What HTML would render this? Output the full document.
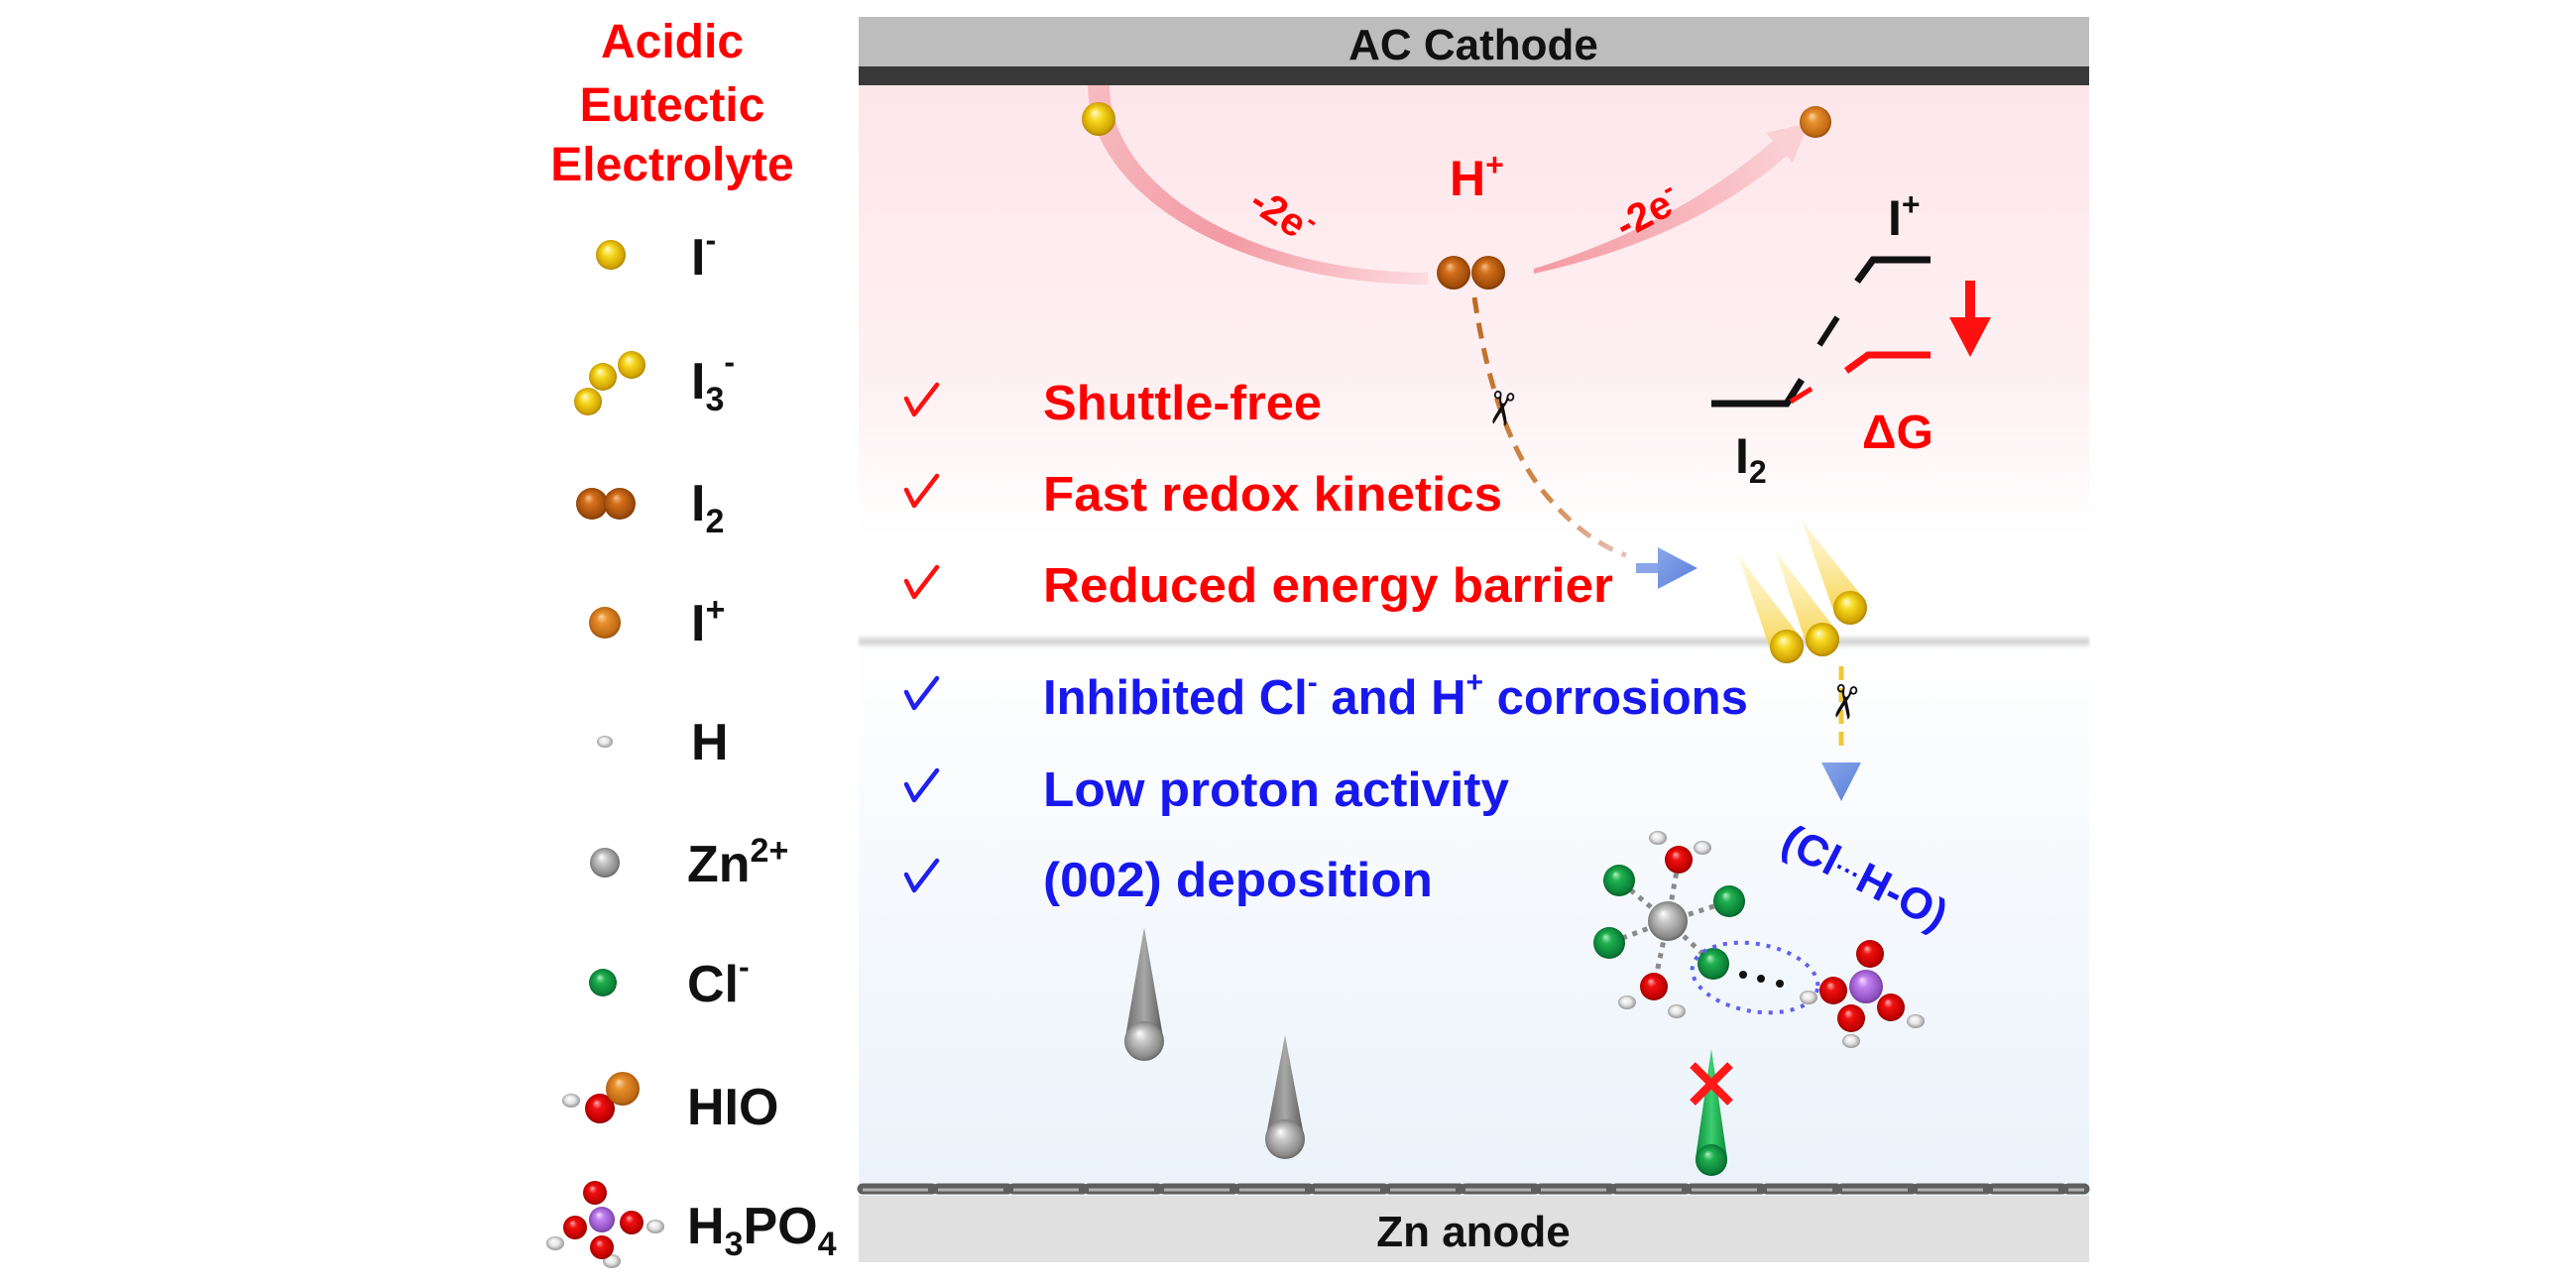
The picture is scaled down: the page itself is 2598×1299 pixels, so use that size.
<!DOCTYPE html>
<html>
<head>
<meta charset="utf-8">
<style>
html,body{margin:0;padding:0;background:#ffffff;}
svg{display:block;}
text{font-family:"Liberation Sans",Arial,sans-serif;font-weight:bold;}
</style>
</head>
<body>
<svg xmlns="http://www.w3.org/2000/svg" width="2598" height="1299" viewBox="0 0 2598 1299">
<defs>
  <radialGradient id="gY" cx="0.5" cy="0.5" r="0.55" fx="0.38" fy="0.3">
    <stop offset="0" stop-color="#fffbd0"/><stop offset="0.35" stop-color="#f6d820"/><stop offset="0.8" stop-color="#d2a400"/><stop offset="1" stop-color="#9a7400"/>
  </radialGradient>
  <radialGradient id="gI2" cx="0.5" cy="0.5" r="0.55" fx="0.38" fy="0.3">
    <stop offset="0" stop-color="#f7c08a"/><stop offset="0.3" stop-color="#d4701c"/><stop offset="0.8" stop-color="#a04c0a"/><stop offset="1" stop-color="#6a3004"/>
  </radialGradient>
  <radialGradient id="gIp" cx="0.5" cy="0.5" r="0.55" fx="0.38" fy="0.3">
    <stop offset="0" stop-color="#fbd8a8"/><stop offset="0.3" stop-color="#e8902e"/><stop offset="0.8" stop-color="#c06a14"/><stop offset="1" stop-color="#804008"/>
  </radialGradient>
  <radialGradient id="gZn" cx="0.5" cy="0.5" r="0.55" fx="0.38" fy="0.3">
    <stop offset="0" stop-color="#ffffff"/><stop offset="0.3" stop-color="#cacaca"/><stop offset="0.8" stop-color="#8a8a8a"/><stop offset="1" stop-color="#555555"/>
  </radialGradient>
  <radialGradient id="gCl" cx="0.5" cy="0.5" r="0.55" fx="0.38" fy="0.3">
    <stop offset="0" stop-color="#b0f0c0"/><stop offset="0.3" stop-color="#20b050"/><stop offset="0.8" stop-color="#0a8038"/><stop offset="1" stop-color="#045020"/>
  </radialGradient>
  <radialGradient id="gO" cx="0.5" cy="0.5" r="0.55" fx="0.38" fy="0.3">
    <stop offset="0" stop-color="#ffb0b0"/><stop offset="0.3" stop-color="#f01010"/><stop offset="0.8" stop-color="#c00000"/><stop offset="1" stop-color="#700000"/>
  </radialGradient>
  <radialGradient id="gP" cx="0.5" cy="0.5" r="0.55" fx="0.38" fy="0.3">
    <stop offset="0" stop-color="#f8e0ff"/><stop offset="0.3" stop-color="#c080f0"/><stop offset="0.8" stop-color="#9050c0"/><stop offset="1" stop-color="#603080"/>
  </radialGradient>
  <radialGradient id="gH" cx="0.5" cy="0.5" r="0.55" fx="0.4" fy="0.35">
    <stop offset="0" stop-color="#ffffff"/><stop offset="0.5" stop-color="#e4e4e4"/><stop offset="1" stop-color="#8a8a8a"/>
  </radialGradient>
  <linearGradient id="bgTop" x1="0" y1="0" x2="0" y2="1">
    <stop offset="0" stop-color="#fde6ea"/><stop offset="0.55" stop-color="#fef1f3"/><stop offset="0.82" stop-color="#ffffff"/><stop offset="1" stop-color="#ffffff"/>
  </linearGradient>
  <linearGradient id="bgBot" x1="0" y1="0" x2="0" y2="1">
    <stop offset="0" stop-color="#ffffff"/><stop offset="1" stop-color="#eaf2fa"/>
  </linearGradient>
  <linearGradient id="sep" x1="0" y1="0" x2="0" y2="1">
    <stop offset="0" stop-color="#f4f4f4"/><stop offset="0.5" stop-color="#d2d2d2"/><stop offset="1" stop-color="#f4f4f4"/>
  </linearGradient>
  <linearGradient id="arcL" gradientUnits="userSpaceOnUse" x1="1108" y1="86" x2="1440" y2="285">
    <stop offset="0" stop-color="#f7b6bd"/><stop offset="0.5" stop-color="#f2909b"/><stop offset="1" stop-color="#fcdade"/>
  </linearGradient>
  <linearGradient id="arcR" gradientUnits="userSpaceOnUse" x1="1547" y1="273" x2="1810" y2="135">
    <stop offset="0" stop-color="#f59aa4"/><stop offset="0.5" stop-color="#f7b3ba"/><stop offset="1" stop-color="#fbd3d7"/>
  </linearGradient>
  <linearGradient id="dashO" gradientUnits="userSpaceOnUse" x1="1487" y1="300" x2="1640" y2="560">
    <stop offset="0" stop-color="#c06a20"/><stop offset="0.7" stop-color="#d08a4a"/><stop offset="1" stop-color="#e8c0b8"/>
  </linearGradient>
  <linearGradient id="cone" x1="0" y1="0" x2="0" y2="1">
    <stop offset="0" stop-color="#fff0b0" stop-opacity="0.45"/><stop offset="1" stop-color="#f6d040" stop-opacity="0.95"/>
  </linearGradient>
  <linearGradient id="drop" x1="0" y1="0" x2="1" y2="0">
    <stop offset="0" stop-color="#6a6a6a"/><stop offset="0.5" stop-color="#a8a8a8"/><stop offset="1" stop-color="#5a5a5a"/>
  </linearGradient>
  <linearGradient id="gdrop" x1="0" y1="0" x2="1" y2="0">
    <stop offset="0" stop-color="#0a8a38"/><stop offset="0.5" stop-color="#3ccf70"/><stop offset="1" stop-color="#0a8a38"/>
  </linearGradient>
  <linearGradient id="blueA" x1="0" y1="0" x2="1" y2="1">
    <stop offset="0" stop-color="#8aa6ea"/><stop offset="1" stop-color="#5a7fd8"/>
  </linearGradient>
  <filter id="soft" x="-5%" y="-50%" width="110%" height="200%"><feGaussianBlur stdDeviation="1.2"/></filter>
</defs>

<!-- ===== Panel background ===== -->
<rect x="866" y="86" width="1241" height="557" fill="url(#bgTop)"/>
<rect x="866" y="643" width="1241" height="565" fill="url(#bgBot)"/>
<rect x="866" y="641" width="1241" height="12" fill="url(#sep)" filter="url(#soft)"/>

<!-- top electrode -->
<rect x="866" y="17" width="1241" height="50" fill="#bdbdbd"/>
<rect x="866" y="67" width="1241" height="19" fill="#383838"/>
<text x="1486" y="60" font-size="44" text-anchor="middle" fill="#111">AC Cathode</text>

<!-- bottom electrode -->
<rect x="866" y="1206" width="1241" height="67" fill="#e0e0e0"/>
<line x1="870" y1="1199" x2="2102" y2="1199" stroke="#5e5e5e" stroke-width="11" stroke-dasharray="70 6" stroke-linecap="round"/>
<line x1="870" y1="1200" x2="2102" y2="1200" stroke="#b0b0b0" stroke-width="3" stroke-dasharray="66 10"/>
<text x="1486" y="1257" font-size="44" text-anchor="middle" fill="#111">Zn anode</text>

<!-- ===== Legend ===== -->
<g fill="#ff0000" font-size="48" text-anchor="middle">
  <text x="678" y="58">Acidic</text>
  <text x="678" y="122">Eutectic</text>
  <text x="678" y="182">Electrolyte</text>
</g>

<g fill="#111" font-size="52">
  <text x="697" y="277">I<tspan font-size="32" dy="-24">-</tspan></text>
  <text x="697" y="402">I<tspan font-size="34" dy="12">3</tspan><tspan font-size="32" dy="-38">-</tspan></text>
  <text x="697" y="525">I<tspan font-size="34" dy="12">2</tspan></text>
  <text x="697" y="646">I<tspan font-size="34" dy="-20">+</tspan></text>
  <text x="697" y="766">H</text>
  <text x="693" y="889">Zn<tspan font-size="34" dy="-20">2+</tspan></text>
  <text x="693" y="1010">Cl<tspan font-size="32" dy="-24">-</tspan></text>
  <text x="693" y="1134">HIO</text>
  <text x="693" y="1254">H<tspan font-size="34" dy="12">3</tspan><tspan dy="-12">PO</tspan><tspan font-size="34" dy="12">4</tspan></text>
</g>

<!-- legend icons -->
<circle cx="616" cy="257" r="15" fill="url(#gY)"/>
<circle cx="593" cy="405" r="14" fill="url(#gY)"/>
<circle cx="608" cy="380" r="14" fill="url(#gY)"/>
<circle cx="637" cy="368" r="14" fill="url(#gY)"/>
<circle cx="597" cy="508" r="16" fill="url(#gI2)"/>
<circle cx="625" cy="508" r="16" fill="url(#gI2)"/>
<circle cx="610" cy="628" r="16" fill="url(#gIp)"/>
<ellipse cx="610" cy="748" rx="8" ry="6" fill="url(#gH)"/>
<circle cx="610" cy="870" r="15" fill="url(#gZn)"/>
<circle cx="608" cy="991" r="14" fill="url(#gCl)"/>
<ellipse cx="576" cy="1110" rx="9" ry="7" fill="url(#gH)"/>
<circle cx="605" cy="1118" r="15" fill="url(#gO)"/>
<circle cx="628" cy="1098" r="17" fill="url(#gIp)"/>
<!-- H3PO4 legend -->
<ellipse cx="560" cy="1254" rx="9" ry="7" fill="url(#gH)"/>
<ellipse cx="661" cy="1237" rx="9" ry="7" fill="url(#gH)"/>
<ellipse cx="617" cy="1272" rx="9" ry="7" fill="url(#gH)"/>
<circle cx="600" cy="1203" r="12" fill="url(#gO)"/>
<circle cx="607" cy="1230" r="13" fill="url(#gP)"/>
<circle cx="580" cy="1238" r="12" fill="url(#gO)"/>
<circle cx="637" cy="1233" r="12" fill="url(#gO)"/>
<circle cx="607" cy="1258" r="12" fill="url(#gO)"/>

<!-- ===== Top reaction arcs ===== -->
<path d="M1097,86 A343,201 0 0 0 1440,287 L1440,275 A321,189 0 0 1 1119,86 Z" fill="url(#arcL)" opacity="0.9"/>
<path d="M1547,271 Q1692,226 1788,142 L1808,152 Q1710,240 1547,276 Z" fill="url(#arcR)"/>
<polygon points="1824,124 1781,134 1808,164" fill="#fbd0d5"/>

<circle cx="1108" cy="120" r="17" fill="url(#gY)"/>
<circle cx="1831" cy="123" r="16" fill="url(#gIp)"/>
<circle cx="1466" cy="275" r="17" fill="url(#gI2)"/>
<circle cx="1501" cy="275" r="17" fill="url(#gI2)"/>

<text x="1462" y="197" font-size="50" fill="#ff0000">H<tspan font-size="32" dy="-20">+</tspan></text>
<text transform="translate(1286,228) rotate(33)" font-size="40" fill="#ff0000" text-anchor="middle">-2e<tspan font-size="28" dy="-16">-</tspan></text>
<text transform="translate(1668,226) rotate(-28)" font-size="40" fill="#ff0000" text-anchor="middle">-2e<tspan font-size="28" dy="-16">-</tspan></text>

<!-- orange dashed path -->
<path d="M1487,300 Q1508,440 1560,500 Q1598,545 1640,560" fill="none" stroke="url(#dashO)" stroke-width="5" stroke-dasharray="16 10"/>
<text transform="translate(1514,412) rotate(100)" font-size="46" text-anchor="middle" dominant-baseline="central" fill="#111" style="font-family:'DejaVu Sans',sans-serif;font-weight:bold">✂</text>

<!-- blue arrow right -->
<rect x="1650" y="568" width="34" height="10" fill="#8aa6ea"/>
<polygon points="1672,552 1712,573 1672,594" fill="url(#blueA)"/>

<!-- I3- cones -->
<polygon points="1753,560 1817,644 1787,660" fill="url(#cone)"/>
<polygon points="1790,555 1853,637 1823,653" fill="url(#cone)"/>
<polygon points="1817,525 1881,605 1851,621" fill="url(#cone)"/>
<circle cx="1802" cy="652" r="17" fill="url(#gY)"/>
<circle cx="1838" cy="645" r="17" fill="url(#gY)"/>
<circle cx="1866" cy="613" r="17" fill="url(#gY)"/>

<!-- yellow dashed down -->
<line x1="1857" y1="672" x2="1857" y2="755" stroke="#f0c83a" stroke-width="5" stroke-dasharray="14 8"/>
<text transform="translate(1860,708) rotate(100)" font-size="46" text-anchor="middle" dominant-baseline="central" fill="#111" style="font-family:'DejaVu Sans',sans-serif;font-weight:bold">✂</text>
<polygon points="1837,769 1877,769 1857,808" fill="url(#blueA)"/>

<!-- ===== Energy diagram ===== -->
<g fill="none" stroke-linecap="butt" stroke-linejoin="miter">
  <polyline points="1873,284 1889,262 1947,262" stroke="#111" stroke-width="7"/>
  <line x1="1853" y1="320" x2="1835" y2="348" stroke="#111" stroke-width="6"/>
  <polyline points="1726,407 1802,407 1817,383" stroke="#111" stroke-width="7"/>
  <line x1="1806" y1="405" x2="1827" y2="392" stroke="#ff1010" stroke-width="5"/>
  <polyline points="1862,374 1884,358 1947,358" stroke="#ff1010" stroke-width="7"/>
  <line x1="1987" y1="283" x2="1987" y2="326" stroke="#ff1010" stroke-width="10"/>
</g>
<polygon points="1966,320 2008,320 1987,360" fill="#ff1010"/>
<text x="1904" y="237" font-size="50" fill="#111">I<tspan font-size="32" dy="-20">+</tspan></text>
<text x="1750" y="477" font-size="50" fill="#111">I<tspan font-size="32" dy="10">2</tspan></text>
<text x="1878" y="452" font-size="48" fill="#ff0000">ΔG</text>

<!-- ===== Bullet list ===== -->
<g fill="none" stroke-width="4.5" stroke-linecap="round" stroke-linejoin="round">
  <path d="M914,402 L922,418 L945,388" stroke="#ff1010"/>
  <path d="M914,494 L922,510 L945,480" stroke="#ff1010"/>
  <path d="M914,586 L922,602 L945,572" stroke="#ff1010"/>
  <path d="M914,698 L922,714 L945,684" stroke="#2020f0"/>
  <path d="M914,791 L922,807 L945,777" stroke="#2020f0"/>
  <path d="M914,882 L922,898 L945,868" stroke="#2020f0"/>
</g>
<g font-size="49" fill="#ff0000">
  <text x="1052" y="423" textLength="281" lengthAdjust="spacingAndGlyphs">Shuttle-free</text>
  <text x="1052" y="515" textLength="463" lengthAdjust="spacingAndGlyphs">Fast redox kinetics</text>
  <text x="1052" y="607" textLength="575" lengthAdjust="spacingAndGlyphs">Reduced energy barrier</text>
</g>
<g font-size="49" fill="#1818ee">
  <text x="1052" y="720">Inhibited Cl<tspan font-size="30" dy="-22">-</tspan><tspan dy="22"> and H</tspan><tspan font-size="30" dy="-22">+</tspan><tspan dy="22"> corrosions</tspan></text>
  <text x="1052" y="813" textLength="470" lengthAdjust="spacingAndGlyphs">Low proton activity</text>
  <text x="1052" y="904" textLength="393" lengthAdjust="spacingAndGlyphs">(002) deposition</text>
</g>

<!-- (Cl...H-O) label -->
<text transform="translate(1874,898) rotate(27)" font-size="44" fill="#1818ee" text-anchor="middle">(Cl<tspan font-size="26" dy="-4">···</tspan><tspan dy="4">H-O)</tspan></text>

<!-- ===== Zn complex ===== -->
<g stroke="#8a8a8a" stroke-width="5" stroke-dasharray="5 6" fill="none">
  <line x1="1682" y1="929" x2="1633" y2="888"/>
  <line x1="1682" y1="929" x2="1744" y2="909"/>
  <line x1="1682" y1="929" x2="1623" y2="951"/>
  <line x1="1682" y1="929" x2="1728" y2="972"/>
  <line x1="1682" y1="929" x2="1693" y2="867"/>
  <line x1="1682" y1="929" x2="1668" y2="995"/>
</g>
<ellipse cx="1672" cy="845" rx="9" ry="7" fill="url(#gH)"/>
<ellipse cx="1717" cy="855" rx="9" ry="7" fill="url(#gH)"/>
<ellipse cx="1641" cy="1011" rx="9" ry="7" fill="url(#gH)"/>
<ellipse cx="1691" cy="1020" rx="9" ry="7" fill="url(#gH)"/>
<circle cx="1693" cy="867" r="14" fill="url(#gO)"/>
<circle cx="1668" cy="995" r="14" fill="url(#gO)"/>
<circle cx="1633" cy="888" r="16" fill="url(#gCl)"/>
<circle cx="1744" cy="909" r="16" fill="url(#gCl)"/>
<circle cx="1623" cy="951" r="16" fill="url(#gCl)"/>
<circle cx="1682" cy="929" r="20" fill="url(#gZn)"/>
<circle cx="1728" cy="972" r="16" fill="url(#gCl)"/>

<!-- H-bond dots & dotted ellipse -->
<circle cx="1758" cy="983" r="4" fill="#111"/>
<circle cx="1776" cy="987" r="4" fill="#111"/>
<circle cx="1795" cy="992" r="4" fill="#111"/>
<ellipse cx="1770" cy="986" rx="64" ry="34" transform="rotate(10 1770 986)" fill="none" stroke="#6060f0" stroke-width="4" stroke-dasharray="4 7"/>

<!-- H3PO4 in panel -->
<ellipse cx="1824" cy="1006" rx="9" ry="7" fill="url(#gH)"/>
<ellipse cx="1932" cy="1030" rx="9" ry="7" fill="url(#gH)"/>
<ellipse cx="1867" cy="1050" rx="9" ry="7" fill="url(#gH)"/>
<circle cx="1886" cy="962" r="14" fill="url(#gO)"/>
<circle cx="1849" cy="999" r="14" fill="url(#gO)"/>
<circle cx="1882" cy="995" r="17" fill="url(#gP)"/>
<circle cx="1907" cy="1016" r="14" fill="url(#gO)"/>
<circle cx="1867" cy="1027" r="14" fill="url(#gO)"/>

<!-- ===== Zn drops ===== -->
<polygon points="1154,935 1173,1046 1135,1046" fill="url(#drop)"/>
<circle cx="1154" cy="1050" r="20" fill="url(#gZn)"/>
<polygon points="1296,1044 1315,1145 1277,1145" fill="url(#drop)"/>
<circle cx="1296" cy="1149" r="20" fill="url(#gZn)"/>

<!-- green Cl drop with X -->
<polygon points="1726,1058 1742,1168 1710,1168" fill="url(#gdrop)"/>
<circle cx="1726" cy="1170" r="16" fill="url(#gCl)"/>
<g stroke="#ff1a1a" stroke-width="8" stroke-linecap="butt">
  <line x1="1707" y1="1074" x2="1745" y2="1112"/>
  <line x1="1745" y1="1074" x2="1707" y2="1112"/>
</g>
</svg>
</body>
</html>
